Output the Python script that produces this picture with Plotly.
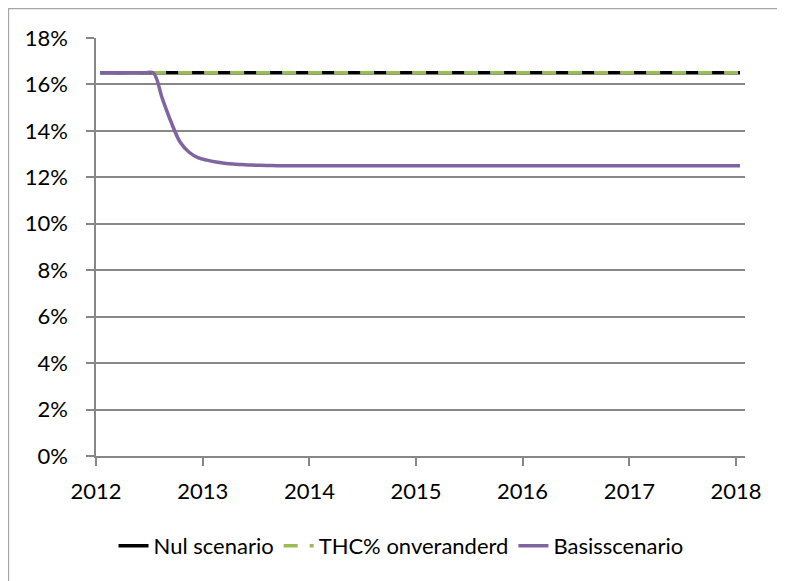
import pandas as pd
import plotly.graph_objects as go

# Monthly observations, Jan 2012 .. Jan 2018 (plotted mid-month)
months = pd.date_range("2012-01-01", periods=73, freq="MS") + pd.Timedelta(days=14)

nul_scenario = [0.165] * 73
thc_onveranderd = [0.165] * 73
basisscenario = (
    [0.165, 0.165, 0.165, 0.165, 0.165, 0.165, 0.165,
     0.1540, 0.1436, 0.1352, 0.1308, 0.1285, 0.1274, 0.1266, 0.1261,
     0.1257, 0.1255, 0.1253, 0.1252, 0.1251]
    + [0.125] * 53
)

year_ticks = ["2012-01-01", "2013-01-01", "2014-01-01", "2015-01-01",
              "2016-01-01", "2017-01-01", "2018-01-01"]
year_labels = ["2012", "2013", "2014", "2015", "2016", "2017", "2018"]

FONT = "Lato"
GRID = "#878787"

fig = go.Figure()
fig.add_trace(go.Scatter(x=months, y=nul_scenario, name="Nul scenario", mode="lines",
                         line=dict(color="#000000", width=3.5)))
fig.add_trace(go.Scatter(x=months, y=thc_onveranderd, name="THC% onveranderd", mode="lines",
                         line=dict(color="#9BBB59", width=3.5, dash="14px,12px")))
fig.add_trace(go.Scatter(x=months, y=basisscenario, name="Basisscenario", mode="lines",
                         line=dict(color="#8064A2", width=3.5, shape="spline", smoothing=1)))

fig.update_layout(
    width=777, height=573,
    margin=dict(l=88, r=40, t=30, b=125),
    paper_bgcolor="white", plot_bgcolor="white",
    font=dict(family=FONT, size=22, color="#000000"),
    showlegend=True,
    legend=dict(orientation="h", x=0.47, xanchor="center", y=-0.215, yanchor="middle",
                font=dict(family=FONT, size=22, color="#000000"),
                bgcolor="rgba(0,0,0,0)", itemwidth=30, tracegroupgap=0),
    xaxis=dict(type="date", range=["2012-01-01", "2018-02-01"],
               tickvals=year_ticks, ticktext=year_labels,
               showgrid=False, zeroline=False,
               showline=True, linecolor=GRID, linewidth=1.5,
               ticks="outside", ticklen=8, tickcolor=GRID, tickwidth=1.5,
               ticklabelstandoff=7),
    yaxis=dict(range=[0, 0.18], dtick=0.02, tickformat=".0%",
               showgrid=True, gridcolor=GRID, gridwidth=1.5, zeroline=False,
               showline=True, linecolor=GRID, linewidth=1.5,
               ticks="outside", ticklen=8, tickcolor=GRID, tickwidth=1.5,
               ticklabelstandoff=14),
    shapes=[dict(type="rect", xref="paper", yref="paper",
                 x0=-0.1348, x1=1.1, y0=-0.4, y1=1.0706,
                 line=dict(color="#A6A6A6", width=1.3), fillcolor="rgba(0,0,0,0)",
                 layer="below")],
)

fig.write_html("out.html")
